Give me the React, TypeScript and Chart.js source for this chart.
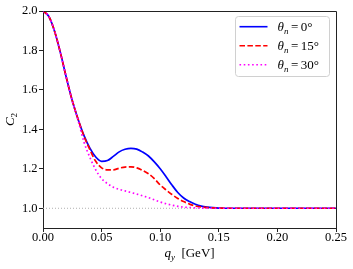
import React, { useEffect, useRef } from "react";
import { Chart, registerables } from "chart.js";

Chart.register(...registerables);

// ---- data ----
const qValues = [
  0, 0.005, 0.01, 0.015, 0.02, 0.025, 0.03, 0.035, 0.04, 0.045, 0.05, 0.055, 0.06, 0.065, 0.07,
  0.075, 0.08, 0.085, 0.09, 0.095, 0.1, 0.105, 0.11, 0.115, 0.12, 0.125, 0.13, 0.135, 0.14, 0.145,
  0.15, 0.16, 0.17, 0.18, 0.19, 0.2, 0.21, 0.22, 0.23, 0.24, 0.25,
];
const c2Theta0 = [
  2.0, 1.972, 1.895, 1.785, 1.66, 1.545, 1.45, 1.368, 1.305, 1.26, 1.238, 1.242, 1.263, 1.286, 1.299,
  1.304, 1.3, 1.285, 1.265, 1.235, 1.2, 1.16, 1.118, 1.08, 1.052, 1.034, 1.02, 1.011, 1.006, 1.003,
  1.001, 1.0, 1.0, 1.0, 1.0, 1.0, 1.0, 1.0, 1.0, 1.0, 1.0,
];
const c2Theta15 = [
  2.0, 1.972, 1.895, 1.785, 1.66, 1.545, 1.45, 1.365, 1.297, 1.238, 1.205, 1.195, 1.195, 1.203, 1.209,
  1.21, 1.205, 1.192, 1.175, 1.15, 1.118, 1.093, 1.07, 1.05, 1.034, 1.021, 1.012, 1.007, 1.004, 1.002,
  1.001, 1.0, 1.0, 1.0, 1.0, 1.0, 1.0, 1.0, 1.0, 1.0, 1.0,
];
const c2Theta30 = [
  2.0, 1.972, 1.895, 1.785, 1.66, 1.543, 1.445, 1.335, 1.258, 1.195, 1.15, 1.125, 1.107, 1.096, 1.088,
  1.08, 1.072, 1.063, 1.054, 1.043, 1.032, 1.023, 1.016, 1.01, 1.006, 1.004, 1.002, 1.001, 1.0, 1.0,
  1.0, 1.0, 1.0, 1.0, 1.0, 1.0, 1.0, 1.0, 1.0, 1.0, 1.0,
];
const thetaLabels = ["0", "15", "30"];
const seriesColors = ["#0000ff", "#ff0000", "#ff00ff"];
const seriesDashes: number[][] = [[], [5.5, 2.4], [1.6, 2.6]];
const refLineX = [0, 0.25];
const refLineY = [1.0, 1.0];
const xTicks = [0, 0.05, 0.1, 0.15, 0.2, 0.25];
const yTicks = [1.0, 1.2, 1.4, 1.6, 1.8, 2.0];

const SERIF = '"Liberation Serif", "DejaVu Serif", serif';
const AXIS_COLOR = "#222222";

const decorPlugin = {
  id: "decor",
  afterDraw(chart: any) {
    const { ctx, chartArea } = chart;
    const { left, right, top, bottom } = chartArea;
    ctx.save();
    // frame (top + right)
    ctx.strokeStyle = AXIS_COLOR;
    ctx.lineWidth = 1;
    ctx.beginPath();
    ctx.moveTo(Math.round(left) + 0.5, Math.round(top) + 0.5);
    ctx.lineTo(Math.round(right) + 0.5, Math.round(top) + 0.5);
    ctx.lineTo(Math.round(right) + 0.5, Math.round(bottom) + 0.5);
    ctx.stroke();

    ctx.fillStyle = "#000";
    ctx.textBaseline = "alphabetic";
    ctx.textAlign = "left";

    // x title: q_y  [GeV]
    const fMain = `italic 13px ${SERIF}`;
    const fSub = `italic 9px ${SERIF}`;
    const fReg = `13px ${SERIF}`;
    ctx.font = fMain;
    const wq = ctx.measureText("q").width;
    ctx.font = fSub;
    const wy = ctx.measureText("y").width;
    ctx.font = fReg;
    const wg = ctx.measureText("  [GeV]").width;
    const total = wq + wy + wg;
    const x0 = (left + right) / 2 - total / 2;
    const by = 256.5;
    ctx.font = fMain;
    ctx.fillText("q", x0, by);
    ctx.font = fSub;
    ctx.fillText("y", x0 + wq, by + 3);
    ctx.font = fReg;
    ctx.fillText("  [GeV]", x0 + wq + wy, by);

    // y title: C_2 rotated
    ctx.save();
    ctx.translate(14, (top + bottom) / 2);
    ctx.rotate(-Math.PI / 2);
    ctx.font = fMain;
    const wc = ctx.measureText("C").width;
    ctx.font = `9px ${SERIF}`;
    const w2 = ctx.measureText("2").width;
    const sx = -(wc + w2) / 2;
    ctx.font = fMain;
    ctx.fillText("C", sx, 0);
    ctx.font = `9px ${SERIF}`;
    ctx.fillText("2", sx + wc, 3);
    ctx.restore();

    // legend
    const bx = 235.5, byy = 16.5, bw = 94, bh = 60;
    ctx.beginPath();
    ctx.roundRect(bx, byy, bw, bh, 3);
    ctx.fillStyle = "rgba(255,255,255,0.8)";
    ctx.fill();
    ctx.strokeStyle = "#d0d0d0";
    ctx.lineWidth = 1;
    ctx.stroke();
    const rows = [26.7, 45.7, 64.7];
    thetaLabels.forEach((lab, i) => {
      const ry = rows[i];
      ctx.save();
      ctx.strokeStyle = seriesColors[i];
      ctx.lineWidth = 1.6;
      ctx.setLineDash(seriesDashes[i]);
      ctx.beginPath();
      ctx.moveTo(239.5, ry);
      ctx.lineTo(267.5, ry);
      ctx.stroke();
      ctx.restore();
      ctx.fillStyle = "#000";
      const tb = ry + 4.5;
      let tx = 277.5;
      ctx.font = fMain;
      ctx.fillText("θ", tx, tb);
      tx += ctx.measureText("θ").width;
      ctx.font = fSub;
      ctx.fillText("n", tx, tb + 3);
      tx += ctx.measureText("n").width + 2.5;
      ctx.font = fReg;
      ctx.fillText("=", tx, tb);
      tx += ctx.measureText("=").width + 2.5;
      ctx.fillText(lab + "°", tx, tb);
    });
    ctx.restore();
  },
};

export default function App() {
  const canvasRef = useRef<HTMLCanvasElement | null>(null);

  useEffect(() => {
    if (!canvasRef.current) return;
    const mk = (ys: number[]) => qValues.map((q, i) => ({ x: q, y: ys[i] }));
    const series = [c2Theta0, c2Theta15, c2Theta30];
    const datasets: any[] = [
      {
        label: "ref",
        data: refLineX.map((x, i) => ({ x, y: refLineY[i] })),
        borderColor: "#b0b0b0",
        borderWidth: 1,
        borderDash: [1, 2],
        pointRadius: 0,
        fill: false,
        order: 10,
      },
      ...series.map((ys, i) => ({
        label: `θn = ${thetaLabels[i]}°`,
        data: mk(ys),
        borderColor: seriesColors[i],
        borderWidth: 1.7,
        borderDash: seriesDashes[i],
        pointRadius: 0,
        fill: false,
        cubicInterpolationMode: "monotone",
        order: 3 - i,
      })),
    ];
    const tickFont = { family: SERIF, size: 12.5 };
    const chart = new Chart(canvasRef.current, {
      type: "line",
      data: { datasets },
      plugins: [decorPlugin],
      options: {
        animation: false,
        responsive: true,
        maintainAspectRatio: false,
        events: [],
        layout: { padding: { left: 0, top: 11, right: 17, bottom: 0 } },
        plugins: { legend: { display: false }, tooltip: { enabled: false } },
        scales: {
          x: {
            type: "linear",
            min: 0,
            max: 0.25,
            afterFit: (s: any) => {
              s.height = 41;
            },
            afterBuildTicks: (s: any) => {
              s.ticks = xTicks.map((v) => ({ value: v }));
            },
            ticks: {
              font: tickFont,
              color: "#000",
              padding: -2,
              maxRotation: 0,
              autoSkip: false,
              callback: (v: any) => Number(v).toFixed(2),
            },
            grid: {
              display: true,
              drawOnChartArea: false,
              drawTicks: true,
              tickLength: 4,
              color: AXIS_COLOR,
              tickColor: AXIS_COLOR,
            },
            border: { display: true, color: AXIS_COLOR, width: 1 },
          },
          y: {
            type: "linear",
            min: 0.9,
            max: 2.0,
            afterFit: (s: any) => {
              s.width = 43;
            },
            afterBuildTicks: (s: any) => {
              s.ticks = yTicks.map((v) => ({ value: v }));
            },
            ticks: {
              font: tickFont,
              color: "#000",
              padding: 1.5,
              autoSkip: false,
              callback: (v: any) => Number(v).toFixed(1),
            },
            grid: {
              display: true,
              drawOnChartArea: false,
              drawTicks: true,
              tickLength: 4,
              color: AXIS_COLOR,
              tickColor: AXIS_COLOR,
            },
            border: { display: true, color: AXIS_COLOR, width: 1 },
          },
        },
      } as any,
    });
    return () => chart.destroy();
  }, []);

  return (
    <div style={{ position: "absolute", left: 0, top: 0, width: 353, height: 269, background: "#fff" }}>
      <canvas ref={canvasRef} />
    </div>
  );
}
